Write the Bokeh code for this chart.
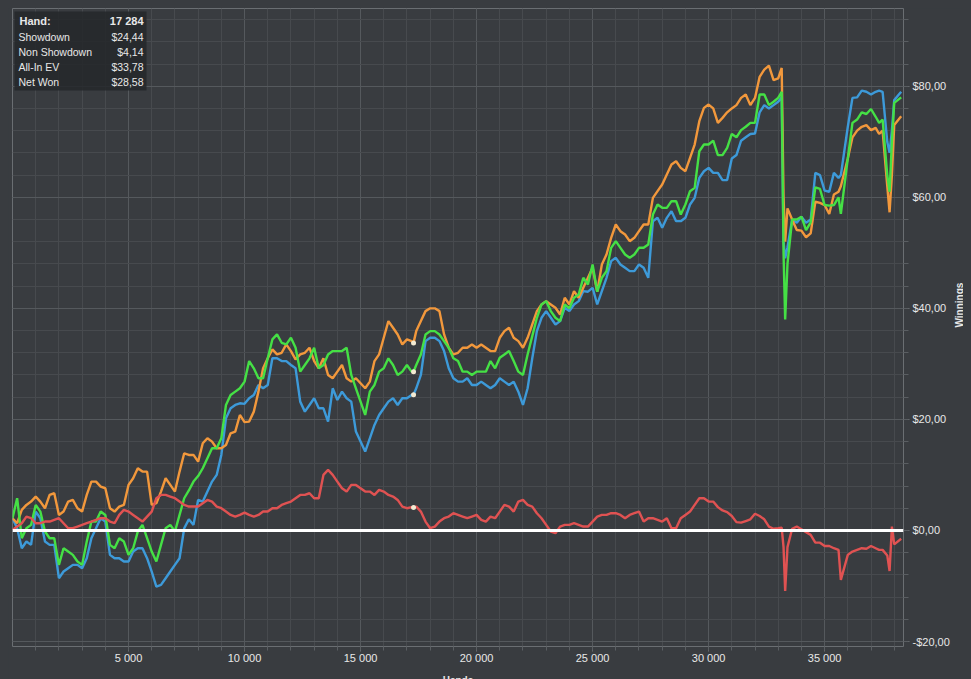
import math
from bokeh.plotting import figure
from bokeh.models import (Range1d, FixedTicker, Span, BoxAnnotation, Label, ColumnDataSource)
from bokeh.embed import file_html
from bokeh.resources import INLINE

# ---------------- data ----------------
# hands sampled every 200 hands, plus the hovered hand and the big all-in swing near 33 000
hands = (list(range(0, 17201, 200)) + [17284] + list(range(17400, 33001, 200)) +
         [33150, 33230, 33300, 33400, 33600, 33800, 34000, 34200, 34400, 34600, 34800,
          35000, 35200, 35400, 35600, 35700, 36000, 36200, 36400, 36600, 36800, 37000,
          37200, 37350, 37500, 37700, 37800, 37900, 38000, 38300])

# All-In EV (orange)
ev_a = [2.2, 1.3, 3.7, 4.6, 5.2, 6.1, 5.2, 4.0, 6.4, 6.7, 2.8, 3.4, 5.2, 5.5, 4.0, 3.4, 6.4, 8.8,
        8.8, 7.9, 7.6, 4.0, 3.4, 4.3, 4.6, 8.2, 9.4, 11.2, 10.6, 10.6, 4.6, 4.9, 7.0, 9.4, 8.2,
        7.0, 10.6, 13.9, 13.6, 13.6, 12.4, 15.7, 16.6, 16.0, 14.8, 14.8, 15.4, 17.5, 17.8, 20.8, 19.5]
ev_b = [19.6, 21.4, 25.0, 29.2, 31.0, 32.6, 31.7, 32.0, 33.5, 32.3, 30.8, 31.7, 32.0, 32.9, 30.5,
        29.2, 31.0, 28.0, 27.4, 28.6, 29.8, 27.4, 26.8, 27.4, 26.5, 25.6, 26.8, 30.5, 31.7, 34.7,
        37.7, 36.5, 35.3, 33.5, 34.4, 34.1, 33.78, 35.9, 37.7, 39.5, 40.0, 40.0, 39.5, 35.3, 32.9,
        31.7, 32.0, 32.9, 32.9, 33.5]
ev_c = [32.9, 33.5, 32.9, 32.3, 32.3, 34.7, 35.9, 36.5, 34.7, 34.1, 32.9, 34.7, 37.1, 39.5, 40.7,
        41.3, 40.7, 40.1, 38.9, 41.9, 40.7, 43.1, 41.9, 43.7, 45.5, 47.3, 43.0, 47.9, 49.7, 52.7,
        55.1, 53.9, 53.3, 52.1, 52.7, 53.9, 55.1, 55.1, 59.9, 61.1, 62.3, 64.1, 65.9, 66.5, 65.3,
        64.7, 67.1, 69.5, 73.7, 76.1, 76.7]
ev_d = [76.0, 73.4, 74.3, 75.3, 76.0, 76.6, 77.9, 78.5, 76.6, 77.9, 81.7, 83.0, 83.7, 81.1, 81.4,
        83.3, 60.0, 52.0, 58.0, 56.0, 54.1, 54.0, 52.8, 53.5, 59.2, 59.0, 58.6, 57.0, 60.5, 61.0,
        62.0, 67.0, 70.8, 72.0, 72.7, 73.0, 72.1, 72.5, 71.4, 72.0, 62.0, 57.3, 64.0, 73.0, 74.6]

# Net Won (green)
net_a = [2.2, 5.8, -1.4, 0.4, 1.0, 4.6, 3.4, -0.2, -1.4, -1.4, -6.2, -3.2, -3.8, -4.4, -5.6, -6.2,
         -2.0, 1.6, 1.6, 3.4, 2.8, -2.6, -3.2, -1.4, -2.0, -4.4, -3.2, -0.2, 1.0, -1.4, -3.8, -5.6,
         -2.6, 0.4, 1.0, -0.2, 2.8, 5.8, 7.2, 8.8, 9.8, 11.2, 13.0, 14.8, 14.8, 16.6, 22.6, 24.4,
         25.0, 25.6, 26.8]
net_b = [30.5, 29.2, 27.4, 27.4, 31.0, 34.4, 35.3, 33.8, 33.5, 34.7, 32.9, 28.6, 29.8, 31.0, 32.9,
         29.2, 29.8, 31.7, 32.3, 32.3, 32.3, 32.9, 28.0, 25.6, 23.2, 20.8, 25.0, 26.2, 28.6, 29.2,
         31.0, 29.8, 28.0, 28.6, 29.8, 28.6, 28.58, 29.8, 31.7, 35.3, 35.9, 35.9, 35.3, 34.1, 32.9,
         31.0, 30.5, 28.6, 28.6, 28.0]
net_c = [28.6, 28.6, 28.6, 30.5, 29.2, 31.1, 31.7, 32.3, 30.5, 28.6, 28.0, 31.7, 35.0, 38.3, 40.7,
         41.3, 39.5, 38.3, 37.7, 40.7, 40.0, 41.9, 42.5, 45.5, 44.3, 47.9, 43.0, 45.5, 46.7, 50.9,
         52.1, 50.9, 49.7, 49.1, 49.7, 50.9, 50.9, 51.5, 56.9, 58.7, 58.1, 58.1, 59.3, 59.3, 56.9,
         58.7, 61.1, 61.7, 68.3, 69.5, 69.5]
net_d = [70.2, 67.6, 67.6, 68.9, 71.4, 70.8, 72.1, 72.7, 73.4, 73.4, 78.5, 78.5, 76.6, 77.2, 77.9,
         79.0, 50.0, 38.0, 48.0, 56.0, 56.0, 56.5, 54.1, 55.5, 61.8, 61.5, 58.6, 58.5, 58.6, 60.0,
         57.0, 67.0, 73.4, 74.0, 75.3, 75.0, 75.9, 74.5, 73.4, 74.0, 64.0, 61.0, 70.0, 77.0, 78.0]

# Showdown (blue)
sd_a = [2.2, 0.4, -3.2, -2.0, -2.6, 3.4, 2.2, -2.0, -2.6, -2.6, -8.6, -7.4, -6.8, -6.2, -6.2, -6.8,
        -5.0, -1.4, 0.4, 2.2, 1.6, -4.4, -5.0, -5.0, -5.6, -5.6, -3.8, -3.2, -3.2, -5.0, -7.4,
        -10.1, -9.8, -8.6, -7.4, -6.2, -5.0, 0.4, 2.0, 1.0, 5.5, 5.2, 7.0, 8.8, 10.0, 13.6, 20.2,
        22.0, 22.6, 22.9, 22.8]
sd_b = [23.8, 24.4, 26.2, 25.6, 26.2, 31.0, 31.0, 30.5, 30.5, 29.8, 29.2, 23.2, 21.4, 22.6, 23.8,
        22.0, 22.0, 19.6, 25.6, 23.5, 25.0, 23.8, 23.2, 17.8, 16.0, 14.2, 16.6, 19.0, 20.8, 22.0,
        23.2, 23.8, 22.6, 23.8, 23.8, 24.4, 24.44, 25.6, 28.0, 34.1, 34.7, 34.7, 34.1, 32.3, 29.2,
        27.4, 26.8, 26.8, 27.4, 26.2]
sd_c = [26.2, 26.8, 26.2, 25.6, 26.2, 27.4, 26.8, 26.2, 26.8, 25.0, 22.6, 25.6, 31.0, 35.9, 38.3,
        39.5, 38.3, 37.1, 37.7, 40.1, 39.5, 40.7, 41.3, 43.1, 43.0, 43.7, 40.7, 43.1, 45.5, 48.5,
        49.1, 47.9, 47.3, 46.7, 46.7, 47.9, 47.3, 45.5, 55.7, 56.3, 54.5, 56.3, 57.5, 55.7, 55.7,
        56.3, 58.7, 59.9, 63.5, 64.7, 65.3]
sd_d = [64.4, 64.4, 63.1, 63.1, 67.0, 67.6, 70.2, 70.8, 71.4, 71.5, 75.3, 76.6, 76.0, 76.6, 77.2,
        78.0, 52.0, 49.0, 51.0, 56.0, 55.4, 56.5, 55.4, 56.0, 64.4, 64.0, 61.2, 61.0, 64.4, 63.5,
        64.0, 72.7, 77.9, 78.0, 79.2, 79.0, 78.5, 79.0, 79.2, 79.0, 70.0, 68.0, 72.0, 77.5, 79.0]

# Non Showdown (red)
nsd_a = [0.1, 0.7, 1.3, 2.5, 2.2, 1.3, 1.3, 1.6, 1.6, 1.9, 2.2, 1.3, 0.4, 0.4, 0.7, 1.0, 1.3, 1.6,
         1.9, 2.2, 2.2, 1.6, 1.3, 2.8, 3.7, 3.4, 2.8, 2.2, 1.6, 2.5, 3.4, 5.8, 6.4, 6.4, 6.1, 5.8,
         5.2, 4.6, 4.3, 4.3, 4.3, 4.9, 5.5, 5.2, 4.3, 4.0, 3.4, 2.8, 2.5, 2.8, 3.2]
nsd_b = [2.8, 2.5, 2.8, 3.4, 3.4, 4.0, 4.0, 4.6, 4.9, 5.2, 5.8, 6.4, 6.4, 6.7, 5.8, 5.8, 10.0, 10.9,
         10.0, 8.8, 7.6, 7.0, 8.2, 8.2, 7.6, 7.0, 7.0, 6.4, 7.3, 7.0, 6.4, 6.1, 5.5, 4.3, 4.0, 4.2,
         4.14, 4.3, 3.4, 1.6, 0.4, 0.7, 1.6, 2.2, 2.5, 3.1, 2.8, 2.5, 2.2, 2.5]
nsd_c = [2.8, 1.9, 1.6, 2.5, 2.2, 3.4, 4.6, 4.3, 3.4, 5.2, 5.5, 4.6, 4.3, 3.1, 2.2, 1.0, -0.2, -0.5,
         0.7, 1.0, 1.0, 1.3, 1.0, 0.7, 0.7, 1.6, 2.5, 2.8, 2.8, 3.1, 3.1, 2.8, 2.2, 2.8, 3.1, 3.4,
         1.6, 2.2, 2.2, 1.9, 1.6, 2.2, 0.4, 0.4, 2.2, 2.8, 3.4, 4.6, 5.8, 5.8, 5.2]
nsd_d = [5.2, 4.2, 3.6, 3.3, 2.6, 1.5, 1.4, 1.7, 2.0, 3.0, 2.6, 2.0, 0.7, 0.3, 0.4, 0.5, -3.0,
         -10.9, -3.0, 0.3, 0.7, 0.2, -0.3, -0.8, -2.2, -2.2, -2.8, -2.8, -3.2, -3.5, -8.9, -4.4,
         -3.8, -3.5, -3.2, -3.3, -2.8, -3.2, -3.5, -3.5, -4.5, -7.3, 0.7, -2.5, -1.5]

all_in_ev = ev_a + ev_b + ev_c + ev_d
net_won = net_a + net_b + net_c + net_d
showdown = sd_a + sd_b + sd_c + sd_d
non_showdown = nsd_a + nsd_b + nsd_c + nsd_d
for s in (all_in_ev, net_won, showdown, non_showdown):
    assert len(s) == len(hands), (len(s), len(hands))

hover_hand = 17284
hover_labels = ["Showdown", "Non Showdown", "All-In EV", "Net Won"]
hover_texts = ["$24,44", "$4,14", "$33,78", "$28,58"]
hover_values = [24.44, 4.14, 33.78, 28.58]

x_ticks = [5000, 10000, 15000, 20000, 25000, 30000, 35000]
x_tick_labels = ["5 000", "10 000", "15 000", "20 000", "25 000", "30 000", "35 000"]
y_ticks = [-20, 0, 20, 40, 60, 80]
y_tick_labels = ["-$20,00", "$0,00", "$20,00", "$40,00", "$60,00", "$80,00"]

# ---------------- style ----------------
BG = "#393c40"
GRID = "#55595d"
MINOR = "#474a4e"
TXT = "#e8e8e8"
FONT = "Liberation Sans"
C_SD = "#3d9ad9"
C_NSD = "#e05252"
C_EV = "#f2983c"
C_NET = "#45e045"

p = figure(frame_width=891, frame_height=638, output_backend="svg", toolbar_location=None,
           x_range=Range1d(0, 38400), y_range=Range1d(-20.9, 94),
           y_axis_location="right", min_border_left=4, min_border_top=0,
           min_border_right=4, min_border_bottom=4,
           background_fill_color=BG, border_fill_color=BG)
p.outline_line_color = "#6a6e72"
p.outline_line_width = 1

xt = FixedTicker(ticks=x_ticks, minor_ticks=[m for m in range(1000, 39000, 1000)])
yt = FixedTicker(ticks=y_ticks, minor_ticks=[m for m in range(-20, 96, 4)])
p.xaxis.ticker = xt
p.yaxis.ticker = yt
p.xgrid.ticker = xt
p.ygrid.ticker = yt
p.xaxis.major_label_overrides = {t: l for t, l in zip(x_ticks, x_tick_labels)}
p.yaxis.major_label_overrides = {t: l for t, l in zip(y_ticks, y_tick_labels)}

for ax in (p.xaxis[0], p.yaxis[0]):
    ax.axis_line_color = None
    ax.major_tick_line_color = "#6a6e72"
    ax.minor_tick_line_color = "#5a5e62"
    ax.major_tick_out = 6
    ax.major_tick_in = 0
    ax.minor_tick_out = 5
    ax.minor_tick_in = 0
    ax.major_label_text_color = TXT
    ax.major_label_text_font = FONT
    ax.major_label_text_font_size = "11px"
    ax.axis_label_text_color = TXT
    ax.axis_label_text_font = FONT
    ax.axis_label_text_font_size = "10px"
    ax.axis_label_text_font_style = "bold"

p.xaxis.major_tick_out = 5
p.xaxis.minor_tick_out = 4
p.xaxis.axis_label = "Hands"
p.yaxis.axis_label = "Winnings"
p.yaxis.axis_label_orientation = math.pi / 2
p.xaxis.major_label_standoff = 0
p.yaxis.major_label_standoff = 3
p.xaxis.axis_label_standoff = 8
p.yaxis.axis_label_standoff = 7

p.xgrid.grid_line_color = GRID
p.ygrid.grid_line_color = GRID
p.xgrid.minor_grid_line_color = MINOR
p.ygrid.minor_grid_line_color = MINOR

src = ColumnDataSource(dict(h=hands, sd=showdown, nsd=non_showdown, ev=all_in_ev, net=net_won))
p.line("h", "sd", source=src, line_color=C_SD, line_width=2.4)
p.line("h", "ev", source=src, line_color=C_EV, line_width=2.4)
p.line("h", "net", source=src, line_color=C_NET, line_width=2.4)
p.line("h", "nsd", source=src, line_color=C_NSD, line_width=2.4)

p.add_layout(Span(location=0, dimension="width", line_color="white", line_width=3))

p.scatter([hover_hand] * 4, hover_values, size=5, fill_color="#f3ead2", line_color=None)

# tooltip box (top-left, screen units relative to the frame)
p.add_layout(BoxAnnotation(left=2, right=134, top=635, bottom=556,
                           left_units="screen", right_units="screen",
                           top_units="screen", bottom_units="screen",
                           fill_color="#25272a", fill_alpha=0.85, line_color=None,
                           level="overlay"))
rows_y = [626, 610, 595, 580, 565]
p.add_layout(Label(x=7, y=rows_y[0], x_units="screen", y_units="screen", text="Hand:",
                   text_color=TXT, text_font=FONT, text_font_size="11px",
                   text_font_style="bold", text_baseline="middle", level="overlay"))
p.add_layout(Label(x=131, y=rows_y[0], x_units="screen", y_units="screen",
                   text=f"{hover_hand // 1000} {hover_hand % 1000:03d}",
                   text_color=TXT, text_font=FONT, text_font_size="11px",
                   text_font_style="bold", text_baseline="middle", text_align="right",
                   level="overlay"))
for yy, lab, val in zip(rows_y[1:], hover_labels, hover_texts):
    p.add_layout(Label(x=6, y=yy, x_units="screen", y_units="screen", text=lab,
                       text_color=TXT, text_font=FONT, text_font_size="10.5px",
                       text_baseline="middle", level="overlay"))
    p.add_layout(Label(x=131, y=yy, x_units="screen", y_units="screen", text=val,
                       text_color=TXT, text_font=FONT, text_font_size="10.5px",
                       text_baseline="middle", text_align="right", level="overlay"))

html = file_html(p, INLINE, title="chart")
html = html.replace("<body>", "<body style=\"background:%s;margin:8px\">" % BG)
open("out.html", "w").write(html)
